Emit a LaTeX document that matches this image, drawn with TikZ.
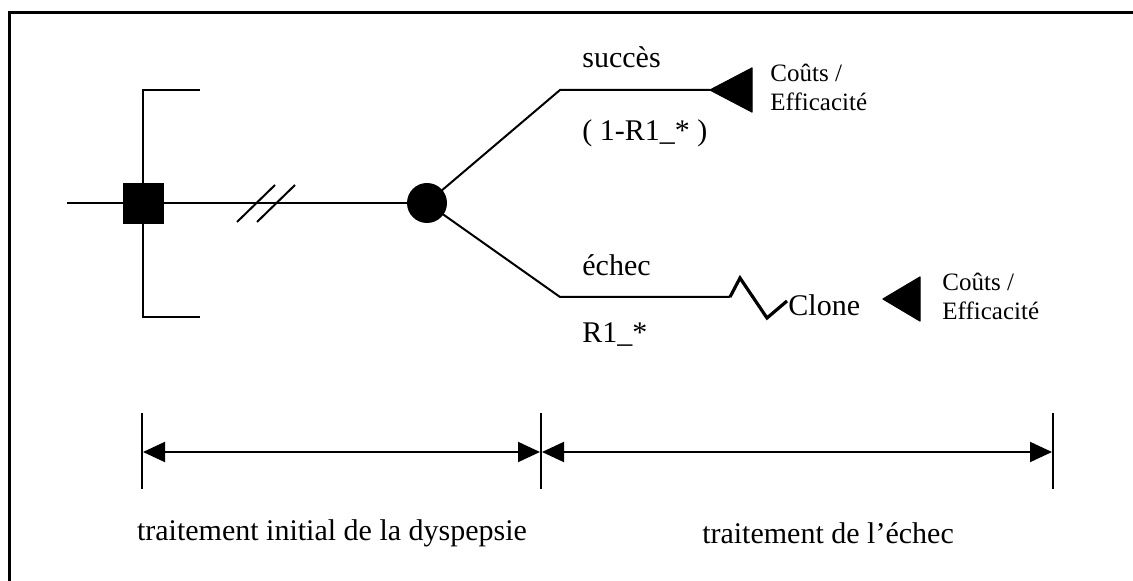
\documentclass[tikz,border=0pt]{standalone}
\usepackage{fontspec}
\setmainfont{Liberation Serif}
\usetikzlibrary{arrows.meta}
\tikzset{
  ln/.style={line width=1pt, black},
  frameline/.style={line width=1.5pt, black},
  lbl/.style={font=\fontsize{15}{17}\selectfont, inner sep=0pt, anchor=west},
  small/.style={font=\fontsize{12.5}{14.5}\selectfont, inner sep=0pt, anchor=west, align=left},
  term/.style={fill=black, draw=black, line width=0.6pt, line join=round},
  dim/.style={line width=1pt, {Triangle[length=11pt,width=10pt]}-{Triangle[length=11pt,width=10pt]}, shorten <=0.5pt, shorten >=0.5pt},
  tick/.style={line width=0.6pt},
}
\begin{document}
\begin{tikzpicture}[x=0.5pt, y=-0.5pt]
\useasboundingbox (0,0) rectangle (1133,581);
% frame
\draw[frameline] (9,581) -- (9,13) -- (1133,13);

% decision node with its bracket
\coordinate (start) at (67,203);
\node[draw=black, fill=black, minimum size=20pt, inner sep=0pt] (dec) at (143,203) {};
\coordinate (bt) at (143,90);
\coordinate (bb) at (143,317);
\draw[ln] (200,90) coordinate (btr) -- (bt) -- (bb) -- (200,317) coordinate (bbr);

% chance node
\node[circle, fill=black, minimum size=20pt, inner sep=0pt] (ch) at (427,203) {};
\draw[ln] (start) -- (dec) -- (ch);
% break marks
\coordinate (s1a) at (237,222); \coordinate (s1b) at (275,185);
\coordinate (s2a) at (257,222); \coordinate (s2b) at (295,185);
\draw[ln] (s1a) -- (s1b);
\draw[ln] (s2a) -- (s2b);

% upper branch: success
\coordinate (up) at (560,90);
\coordinate (t1) at (710,90);
\draw[ln] (ch.center) -- (up) -- (t1);
\fill[term] (t1) -- (752,68) -- (752,112) -- cycle;
\node[lbl] (succ) at (582,57) {succès};
\node[lbl] (p1) at (582,133) {( 1-R1\_* )};
\node[small] (ce1) at (770,87) {Coûts /\\Efficacité};

% lower branch: failure
\coordinate (lo) at (560,297);
\coordinate (z0) at (730,297);
\draw[ln] (ch.center) -- (lo) -- (z0);
\draw[line width=1.6pt, line join=miter] (z0) -- (740,278) -- (767,318) -- (787,301) coordinate (z3);
\node[lbl] (clone) at (788,305) {Clone};
\coordinate (t2) at (883,299);
\fill[term] (t2) -- (920,277) -- (920,321) -- cycle;
\node[lbl] (ech) at (582,265) {échec};
\node[lbl] (p2) at (582,335) {R1\_*};
\node[small] (ce2) at (942,296) {Coûts /\\Efficacité};

% time horizons
\coordinate (ka) at (142,413); \coordinate (kA) at (142,489);
\coordinate (kb) at (541,413); \coordinate (kB) at (541,489);
\coordinate (kc) at (1053,413); \coordinate (kC) at (1053,489);
\draw[tick] (ka) -- (kA);
\draw[tick] (kb) -- (kB);
\draw[tick] (kc) -- (kC);
\draw[dim] (142,452) coordinate (da) -- (541,452) coordinate (db);
\draw[dim] (db) -- (1053,452) coordinate (dc);
\node[lbl, anchor=center] (h1) at (332,533) {traitement initial de la dyspepsie};
\node[lbl, anchor=center] (h2) at (828,533) {traitement de l’échec};
\end{tikzpicture}
\end{document}
